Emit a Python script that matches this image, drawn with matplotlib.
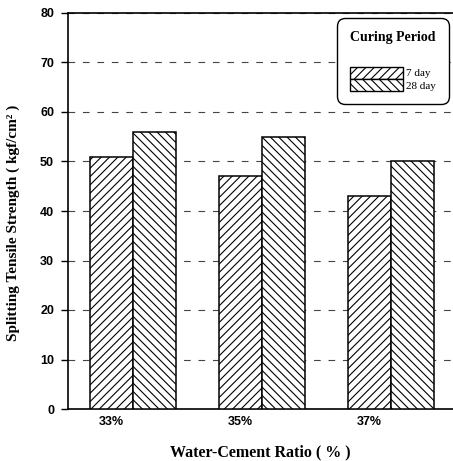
import matplotlib
matplotlib.use("Agg")
import matplotlib.pyplot as plt
from matplotlib.patches import Patch
import numpy as np

# data
ratios = ["33%", "35%", "37%"]
day7 = [51, 47, 43]
day28 = [56, 55, 50]
yticks = [0, 10, 20, 30, 40, 50, 60, 70, 80]

serif = ["Liberation Serif", "DejaVu Serif"]
sans = ["Liberation Sans Narrow", "Liberation Sans", "DejaVu Sans"]

plt.rcParams['hatch.linewidth'] = 0.8

fig = plt.figure(figsize=(4.53, 4.61), dpi=100)
ax = fig.add_axes([68 / 453, 52 / 461, 385 / 453, 396 / 461])

x = np.arange(len(ratios))
w = 0.333
ax.bar(x - w / 2, day7, w, facecolor="white", edgecolor="black", hatch="////", linewidth=1.1, zorder=3)
ax.bar(x + w / 2, day28, w, facecolor="white", edgecolor="black", hatch="\\\\\\\\", linewidth=1.1, zorder=3)

ax.set_xlim(-0.504, 2.48)
ax.set_ylim(0, 80)
ax.set_yticks(yticks)
ax.set_yticklabels([str(v) for v in yticks], fontsize=9, fontweight="bold", family=sans)
ax.set_xticks(x - w / 2)
ax.set_xticklabels(ratios, fontsize=9, fontweight="bold", family=sans)
ax.tick_params(axis="x", length=0, pad=5)
ax.tick_params(axis="y", length=5, width=1, direction="out", pad=5)

ax.yaxis.grid(True, linestyle=(0, (6, 7)), color="#444444", linewidth=0.8, zorder=0)
ax.set_axisbelow(True)
ax.spines["right"].set_visible(False)
for s in ["left", "bottom", "top"]:
    ax.spines[s].set_linewidth(1.2)

ax.set_ylabel("Splitting Tensile Strength ( kgf/cm² )", fontsize=11, fontweight="bold", family=serif)
ax.yaxis.set_label_coords(-0.125, 0.47)
ax.set_xlabel("Water-Cement Ratio ( % )", fontsize=11.5, fontweight="bold", family=serif, labelpad=12)

handles = [Patch(facecolor="white", edgecolor="black", hatch="////", linewidth=1.0),
           Patch(facecolor="white", edgecolor="black", hatch="\\\\\\\\", linewidth=1.0)]
leg = ax.legend(handles, ["7 day", "28 day"], title="Curing Period",
                loc="upper right", bbox_to_anchor=(0.99, 0.987), borderaxespad=0,
                prop={"family": serif, "size": 8},
                title_fontproperties={"family": serif, "size": 10, "weight": "bold"},
                handlelength=4.7, handleheight=1.3, handletextpad=0.3,
                labelspacing=0.0, borderpad=1.2, fancybox=True, framealpha=1,
                edgecolor="black")
leg.get_frame().set_linewidth(1.0)
leg.get_frame().set_boxstyle("round,pad=0,rounding_size=0.7")
leg._legend_box.sep = 16

fig.savefig("out.png", dpi=100)
